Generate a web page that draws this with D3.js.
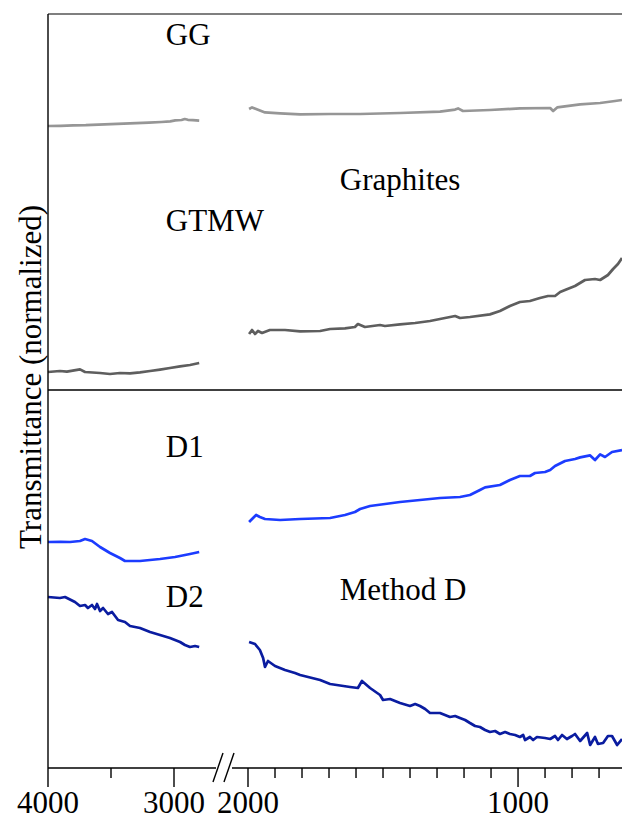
<!DOCTYPE html>
<html>
<head>
<meta charset="utf-8">
<script src="https://cdn.jsdelivr.net/npm/d3@7/dist/d3.min.js"></script>
<style>
  html, body { margin: 0; padding: 0; background: #fff; }
  svg { display: block; font-family: "Liberation Serif", "Times New Roman", serif; }
</style>
</head>
<body>
<svg id="chart" width="622" height="820"></svg>
<script>
// FTIR transmittance spectra, wavenumber (cm-1) vs. normalized transmittance (offset)
// Broken x axis: 4000-2790 on the left, 2000-615 on the right.

const ggHigh = [[4000,1.320],[3900,1.321],[3800,1.323],[3700,1.324],[3600,1.327],[3500,1.329],[3400,1.332],[3300,1.334],[3200,1.337],[3100,1.340],[3030,1.343],[2990,1.348],[2940,1.350],[2915,1.355],[2890,1.351],[2850,1.349],[2800,1.347]];
const ggLow = [[1996,1.405],[1985,1.413],[1970,1.405],[1937,1.388],[1881,1.383],[1807,1.378],[1696,1.380],[1585,1.380],[1437,1.385],[1289,1.392],[1233,1.402],[1222,1.408],[1204,1.395],[1104,1.400],[993,1.408],[881,1.410],[870,1.395],[855,1.413],[770,1.428],[696,1.435],[641,1.445],[615,1.450]];

const gtmwHigh = [[4000,0.090],[3905,0.095],[3850,0.092],[3746,0.103],[3706,0.090],[3587,0.085],[3508,0.080],[3429,0.085],[3349,0.083],[3270,0.088],[3190,0.095],[3111,0.102],[3032,0.110],[2952,0.118],[2873,0.125],[2800,0.135]];
const gtmwLow = [[1996,0.280],[1985,0.300],[1974,0.280],[1963,0.295],[1948,0.285],[1919,0.300],[1863,0.300],[1807,0.293],[1733,0.295],[1696,0.305],[1641,0.308],[1604,0.315],[1593,0.330],[1567,0.315],[1511,0.325],[1493,0.320],[1437,0.328],[1381,0.335],[1326,0.345],[1289,0.355],[1233,0.370],[1215,0.360],[1178,0.365],[1104,0.378],[1067,0.395],[1030,0.420],[993,0.440],[956,0.445],[919,0.460],[889,0.470],[863,0.470],[844,0.490],[826,0.500],[789,0.520],[752,0.550],[715,0.555],[696,0.550],[667,0.575],[648,0.605],[630,0.630],[615,0.660]];

const d1High = [[4000,1.130],[3900,1.131],[3825,1.130],[3746,1.135],[3706,1.145],[3651,1.135],[3587,1.105],[3508,1.075],[3429,1.050],[3389,1.035],[3270,1.035],[3111,1.045],[2992,1.055],[2873,1.070],[2800,1.080]];
const d1Low = [[1996,1.230],[1970,1.265],[1956,1.255],[1937,1.245],[1881,1.240],[1807,1.245],[1696,1.250],[1641,1.265],[1604,1.280],[1585,1.295],[1548,1.310],[1437,1.330],[1289,1.350],[1215,1.355],[1178,1.365],[1141,1.390],[1122,1.403],[1067,1.415],[1030,1.440],[993,1.460],[956,1.460],[937,1.475],[900,1.480],[881,1.490],[863,1.510],[826,1.535],[789,1.545],[770,1.553],[733,1.563],[715,1.540],[696,1.568],[678,1.555],[652,1.580],[615,1.590]];

const d2High = [[4000,0.855],[3905,0.850],[3865,0.855],[3786,0.830],[3746,0.810],[3706,0.815],[3683,0.800],[3651,0.815],[3627,0.795],[3611,0.820],[3587,0.785],[3563,0.800],[3524,0.770],[3492,0.780],[3444,0.740],[3389,0.730],[3349,0.710],[3270,0.700],[3190,0.680],[3111,0.665],[3032,0.650],[2952,0.630],[2913,0.615],[2873,0.605],[2833,0.610],[2800,0.605]];
const d2Low = [[1996,0.630],[1974,0.620],[1956,0.590],[1944,0.550],[1937,0.505],[1926,0.535],[1900,0.510],[1863,0.490],[1826,0.475],[1807,0.465],[1733,0.440],[1696,0.420],[1622,0.405],[1593,0.400],[1578,0.435],[1548,0.400],[1511,0.365],[1500,0.340],[1474,0.345],[1437,0.325],[1400,0.310],[1381,0.320],[1363,0.310],[1344,0.295],[1326,0.275],[1289,0.275],[1252,0.255],[1233,0.260],[1215,0.250],[1196,0.240],[1178,0.225],[1159,0.210],[1141,0.205],[1122,0.190],[1104,0.180],[1085,0.185],[1067,0.170],[1048,0.180],[1030,0.170],[1011,0.165],[993,0.155],[981,0.165],[974,0.140],[956,0.155],[944,0.140],[930,0.155],[900,0.150],[881,0.145],[863,0.160],[852,0.140],[837,0.165],[819,0.145],[800,0.160],[789,0.170],[770,0.135],[744,0.175],[733,0.115],[715,0.155],[704,0.120],[685,0.125],[667,0.160],[652,0.160],[633,0.115],[615,0.145]];

const leftTicksMajor = [4000, 3000];
const leftTicksMinor = [3500];
const rightTicksMajor = [2000, 1000];
const rightTicksMinor = [1900,1800,1700,1600,1500,1400,1300,1200,1100,900,800,700];

const panelLabels = [
  { panel: "upper", text: "GG", wn: 3065, v: 1.725 },
  { panel: "upper", text: "Graphites", wn: 1660, v: 1.0 },
  { panel: "upper", text: "GTMW", wn: 3065, v: 0.795 },
  { panel: "lower", text: "D1", wn: 3065, v: 1.555 },
  { panel: "lower", text: "D2", wn: 3065, v: 0.805 },
  { panel: "lower", text: "Method D", wn: 1660, v: 0.84 }
];

const series = [
  { panel: "upper", segments: [ggHigh, ggLow], color: "#969696" },
  { panel: "upper", segments: [gtmwHigh, gtmwLow], color: "#5e5e5e" },
  { panel: "lower", segments: [d1High, d1Low], color: "#1c3cff" },
  { panel: "lower", segments: [d2High, d2Low], color: "#0a1ca0" }
];

const svg = d3.select("#chart");
const plotL = 48, plotR = 622, plotT = 14, plotMid = 390, plotB = 768;

const xHigh = d3.scaleLinear().domain([4000, 2790]).range([plotL, plotL + 1210 * 0.126]);
const xLow = d3.scaleLinear().domain([2000, 615]).range([248, plotR]);
const xOf = wn => wn > 2400 ? xHigh(wn) : xLow(wn);

const yScale = {
  upper: d3.scaleLinear().domain([0, 1.88]).range([plotMid, plotT]),
  lower: d3.scaleLinear().domain([0, 1.89]).range([plotB, plotMid])
};

// spectra
series.forEach(s => {
  const line = d3.line().x(d => xOf(d[0])).y(d => yScale[s.panel](d[1]));
  s.segments.forEach(seg => {
    svg.append("path")
      .attr("d", line(seg))
      .attr("fill", "none")
      .attr("stroke", s.color)
      .attr("stroke-width", 2.7)
      .attr("stroke-linejoin", "round");
  });
});

// frame: top border, panel divider, left axis
svg.append("line").attr("x1", plotL).attr("x2", plotR).attr("y1", plotT).attr("y2", plotT)
  .attr("stroke", "#555").attr("stroke-width", 1.6);
svg.append("line").attr("x1", plotL).attr("x2", plotR).attr("y1", plotMid).attr("y2", plotMid)
  .attr("stroke", "#000").attr("stroke-width", 1.4);
svg.append("line").attr("x1", plotL).attr("x2", plotL).attr("y1", plotT).attr("y2", plotB + 19)
  .attr("stroke", "#000").attr("stroke-width", 1.4);

// broken bottom axis
const g = svg.append("g").attr("stroke", "#000").attr("stroke-width", 1.4);
g.append("line").attr("x1", plotL).attr("x2", 216).attr("y1", plotB).attr("y2", plotB);
g.append("line").attr("x1", 232).attr("x2", plotR).attr("y1", plotB).attr("y2", plotB);
g.append("line").attr("x1", 213).attr("y1", plotB + 14).attr("x2", 223).attr("y2", plotB - 15);
g.append("line").attr("x1", 224).attr("y1", plotB + 14).attr("x2", 234).attr("y2", plotB - 15);

const tick = (x, len) => g.append("line").attr("x1", x).attr("x2", x).attr("y1", plotB).attr("y2", plotB + len);
leftTicksMajor.filter(v => v !== 4000).forEach(v => tick(xHigh(v), 19));
leftTicksMinor.forEach(v => tick(xHigh(v), 10));
rightTicksMajor.forEach(v => tick(xLow(v), 19));
rightTicksMinor.forEach(v => tick(xLow(v), 10));

const tl = svg.append("g").attr("font-size", 31).attr("text-anchor", "middle").attr("fill", "#000");
leftTicksMajor.forEach(v => tl.append("text").attr("x", xHigh(v)).attr("y", 813).text(v));
rightTicksMajor.forEach(v => tl.append("text").attr("x", xLow(v)).attr("y", 813).text(v));

// y axis title
svg.append("text")
  .attr("transform", "translate(41,377) rotate(-90)")
  .attr("text-anchor", "middle")
  .attr("font-size", 31)
  .text("Transmittance (normalized)");

// sample / group labels
panelLabels.forEach(l => {
  svg.append("text")
    .attr("x", xOf(l.wn))
    .attr("y", yScale[l.panel](l.v))
    .attr("font-size", 31)
    .text(l.text);
});
</script>
</body>
</html>
